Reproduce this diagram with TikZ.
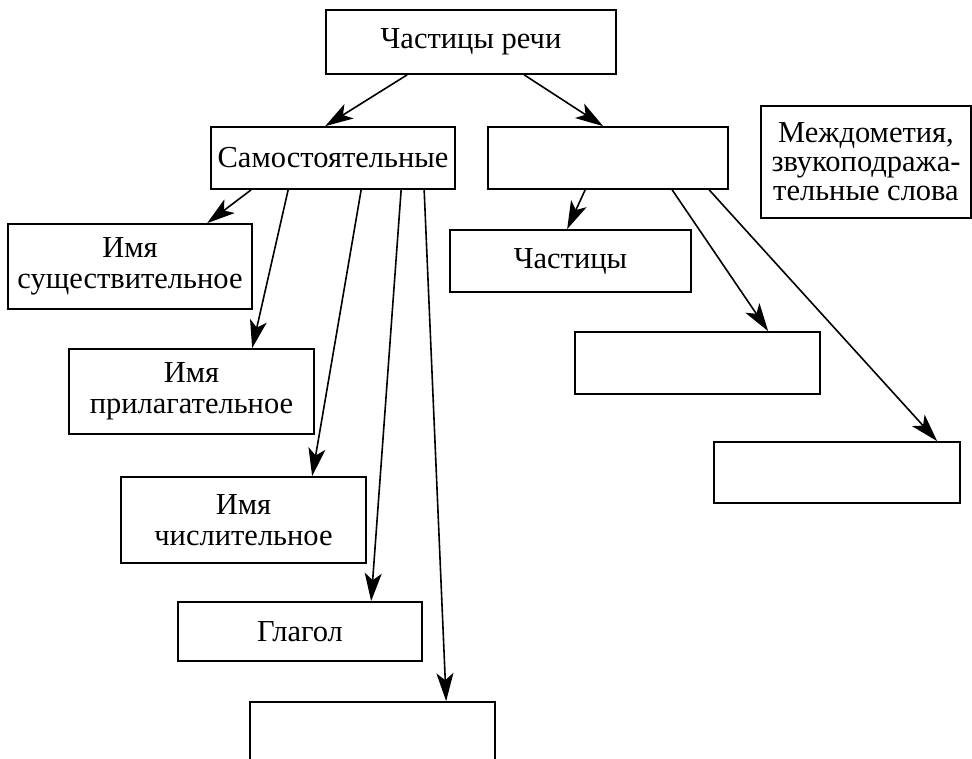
\documentclass[tikz,border=0pt]{standalone}
\usepackage{fontspec}
\setmainfont{Liberation Serif}
\usetikzlibrary{calc,arrows.meta}
\begin{document}
\begin{tikzpicture}[x=1pt,y=-1pt,
  box/.style={draw,line width=1.7pt,inner sep=0pt,align=center,font=\fontsize{30.5}{31}\selectfont},
  conn/.style={line width=1.6pt,-{Stealth[length=28pt,width=17pt,inset=7pt]}}]
\fill[white] (0,0) rectangle (972,759);
\useasboundingbox (0,0) rectangle (972,759);
\clip (0,0) rectangle (972,759);
\node[box,minimum width=290,minimum height=64] (top) at (471,42) {Частицы речи};
\node[box,minimum width=244,minimum height=62] (sam) at (333,158) {Самостоятельные};
\node[box,minimum width=240,minimum height=62] (r) at (608,158) {};
\node[box,minimum width=210,minimum height=112,font=\fontsize{30.5}{29}\selectfont] (mezh) at (866,162) {Междометия,\\звукоподража-\\тельные слова};
\node[box,minimum width=241,minimum height=62] (chast) at (570.5,261) {Частицы};
\node[box,minimum width=244,minimum height=85] (sush) at (130,266.5) {Имя\\существительное};
\node[box,minimum width=245,minimum height=85] (pril) at (191.5,391.5) {Имя\\прилагательное};
\node[box,minimum width=245,minimum height=86] (chisl) at (243.5,520) {Имя\\числительное};
\node[box,minimum width=244,minimum height=59] (glag) at (300,631.5) {Глагол};
\node[box,minimum width=245,minimum height=80] (bot) at (372.5,742) {};
\node[box,minimum width=245,minimum height=62] (b1) at (697.5,363) {};
\node[box,minimum width=246,minimum height=61] (b2) at (837,472.5) {};
\draw[conn] ($(top.south west)+(82,0)$) -- ($(sam.north west)+(115,0)$);
\draw[conn] ($(top.south west)+(199,0)$) -- ($(r.north west)+(116,0)$);
\draw[conn] ($(sam.south west)+(41,0)$) -- ($(sush.north west)+(200,0)$);
\draw[conn] ($(sam.south west)+(78,0)$) -- ($(pril.north west)+(184,0)$);
\draw[conn] ($(sam.south west)+(151,0)$) -- ($(chisl.north west)+(192,0)$);
\draw[conn] ($(sam.south west)+(191,0)$) -- ($(glag.north west)+(194,0)$);
\draw[conn] ($(sam.south west)+(214,0)$) -- ($(bot.north west)+(197,0)$);
\draw[conn] ($(r.south west)+(98,0)$) -- ($(chast.north west)+(118,0)$);
\draw[conn] ($(r.south west)+(185,0)$) -- ($(b1.north west)+(194,0)$);
\draw[conn] ($(r.south west)+(222,0)$) -- ($(b2.north west)+(224,0)$);
\end{tikzpicture}
\end{document}
